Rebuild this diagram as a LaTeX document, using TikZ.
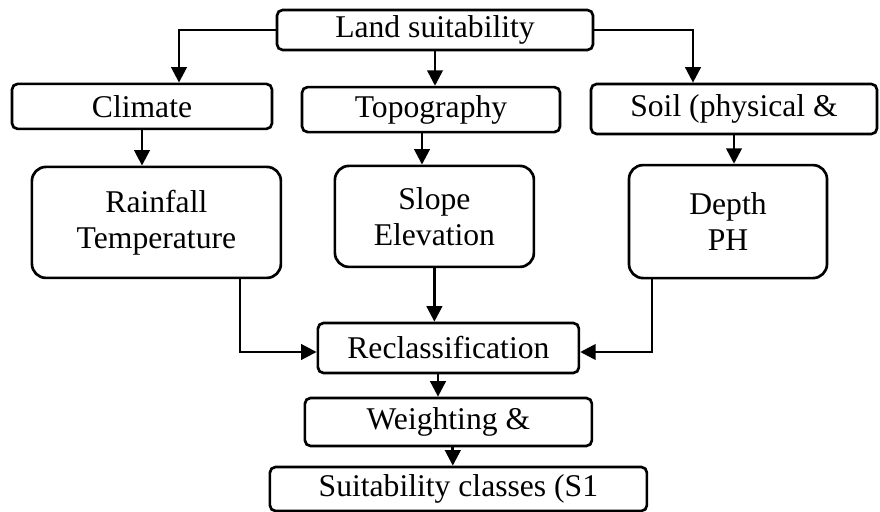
\documentclass[tikz,border=0pt]{standalone}
\usepackage{fontspec}
\setmainfont{Liberation Serif}
\usepackage{tikz}
\usetikzlibrary{arrows.meta,positioning}
\tikzset{
    box/.style={draw,line width=1.9pt,rounded corners=4pt,inner sep=0pt,
        align=center,font=\fontsize{22.5}{25.8}\selectfont},
    bigbox/.style={box,rounded corners=10pt},
    link/.style={-{Triangle[length=11pt,width=11pt]},line width=1.9pt}
}

\begin{document}
\begin{tikzpicture}
        \useasboundingbox (0,0) rectangle (22,-12.8);

        \node[box,minimum width=7.9cm,minimum height=1cm] (land) at (10.875,-0.75) {Land suitability};

        \node[box,minimum width=6.5cm,minimum height=1.125cm] (climate) at (3.55,-2.66) {Climate};
        \node[box,minimum width=6.45cm,minimum height=1.125cm] (topo) at (10.775,-2.74) {Topography};
        \node[box,minimum width=7.15cm,minimum height=1.25cm] (soil) at (18.35,-2.725) {Soil (physical \&};

        \node[bigbox,minimum width=6.225cm,minimum height=2.775cm] (rain) at (3.91,-5.56) {Rainfall\\Temperature};
        \node[bigbox,minimum width=4.975cm,minimum height=2.525cm] (slope) at (10.86,-5.41) {Slope\\Elevation};
        \node[bigbox,minimum width=4.95cm,minimum height=2.825cm] (depth) at (18.2,-5.54) {Depth\\PH};

        \node[box,minimum width=6.525cm,minimum height=1.25cm] (reclass) at (11.21,-8.7) {Reclassification};
        \node[box,minimum width=7.175cm,minimum height=1.2cm] (weight) at (11.21,-10.55) {Weighting \&};
        \node[box,minimum width=9.425cm,minimum height=1.1cm] (suit) at (11.46,-12.225) {Suitability classes (S1};

        \draw[link] (land.west) -| ([xshift=0.925cm]climate.north);
        \draw[link] (land.south) -- (land.south |- topo.north);
        \draw[link] (land.east) -| ([xshift=-1.025cm]soil.north);

        \draw[link] (climate.south) -- (climate.south |- rain.north);
        \draw[link] ([xshift=-0.225cm]topo.south) -- ([xshift=-0.225cm]topo.south |- slope.north);
        \draw[link] (soil.south) -- (soil.south |- depth.north);

        \draw[link] ([xshift=2.09cm]rain.south) |- ([yshift=-0.1cm]reclass.west);
        \draw[link] (slope.south) -- (slope.south |- reclass.north);
        \draw[link] ([xshift=-1.9cm]depth.south) |- ([yshift=-0.1cm]reclass.east);

        \draw[link] ([xshift=-0.26cm]reclass.south) -- ([xshift=-0.26cm]reclass.south |- weight.north);
        \draw[link] ([xshift=0.11cm]weight.south) -- ([xshift=0.11cm]weight.south |- suit.north);

\end{tikzpicture}
\end{document}
